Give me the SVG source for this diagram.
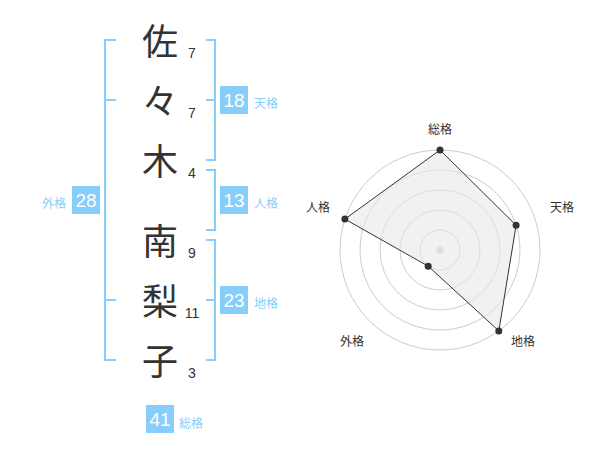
<svg xmlns="http://www.w3.org/2000/svg" width="600" height="470" viewBox="0 0 600 470">
<style>
.kanji{font-family:"Noto Sans CJK JP","Noto Sans CJK SC",sans-serif;font-size:36px;fill:#333;text-anchor:middle}
.num{font-family:"Liberation Sans",Arial,sans-serif;font-size:14px;fill:#333;text-anchor:middle}
.br{fill:none;stroke:#87cefa;stroke-width:2}
.box{fill:#87cefa}
.boxt{font-family:"Liberation Sans",Arial,sans-serif;font-size:19px;fill:#fff;text-anchor:middle}
.lab{font-family:"Noto Sans CJK JP","Noto Sans CJK SC",sans-serif;font-size:12px;fill:#87cefa}
.rl{font-family:"Noto Sans CJK JP","Noto Sans CJK SC",sans-serif;font-size:12px;fill:#333;text-anchor:middle}
.ring{fill:none;stroke:#ccc;stroke-width:1}
.dot{fill:#333}
</style>
<rect width="600" height="470" fill="#fff"/>
<g id="name">
<text class="kanji" x="160" y="55">佐</text>
<text class="kanji" x="160" y="115">々</text>
<text class="kanji" x="160" y="175">木</text>
<text class="kanji" x="160" y="255">南</text>
<text class="kanji" x="160" y="315">梨</text>
<text class="kanji" x="160" y="375">子</text>
<text class="num" x="192" y="58">7</text>
<text class="num" x="192" y="118">7</text>
<text class="num" x="192" y="178">4</text>
<text class="num" x="192" y="258">9</text>
<text class="num" x="192" y="318">11</text>
<text class="num" x="192" y="378">3</text>
</g>
<g id="connectors">
<path class="br" d="M116,40 H105 V360 H116 M105,100 H116 M105,300 H116"/>
<path class="br" d="M206,40 H215 V160 H206 M206,100 H215"/>
<path class="br" d="M206,170 H215 V230 H206"/>
<path class="br" d="M206,240 H215 V360 H206 M206,300 H215"/>
</g>
<g id="tenkaku">
<rect class="box" x="220" y="86" width="28" height="28"/>
<text class="boxt" x="234" y="107">18</text>
<text class="lab" x="254" y="108">天格</text>
</g>
<g id="jinkaku">
<rect class="box" x="220" y="186" width="28" height="28"/>
<text class="boxt" x="234" y="207">13</text>
<text class="lab" x="254" y="208">人格</text>
</g>
<g id="chikaku">
<rect class="box" x="220" y="286" width="28" height="28"/>
<text class="boxt" x="234" y="307">23</text>
<text class="lab" x="254" y="308">地格</text>
</g>
<g id="gaikaku">
<rect class="box" x="72" y="186" width="28" height="28"/>
<text class="boxt" x="86" y="207">28</text>
<text class="lab" x="66" y="208" text-anchor="end">外格</text>
</g>
<g id="soukaku">
<rect class="box" x="146" y="405" width="28" height="28"/>
<text class="boxt" x="160" y="426">41</text>
<text class="lab" x="179" y="428">総格</text>
</g>
<g id="radar">
<circle class="ring" cx="440" cy="250" r="20"/>
<circle class="ring" cx="440" cy="250" r="40"/>
<circle class="ring" cx="440" cy="250" r="60"/>
<circle class="ring" cx="440" cy="250" r="80"/>
<circle class="ring" cx="440" cy="250" r="100"/>
<circle cx="440" cy="250" r="3.5" fill="#ccc"/>
<polygon points="440,150 516.1,225.3 498.8,330.9 428.2,266.2 344.9,219.1" fill="#e8e8e8" fill-opacity="0.6" stroke="#333" stroke-width="1"/>
<circle class="dot" cx="440" cy="150" r="3.5"/>
<circle class="dot" cx="516.1" cy="225.3" r="3.5"/>
<circle class="dot" cx="498.8" cy="330.9" r="3.5"/>
<circle class="dot" cx="428.2" cy="266.2" r="3.5"/>
<circle class="dot" cx="344.9" cy="219.1" r="3.5"/>
<text class="rl" x="440" y="134">総格</text>
<text class="rl" x="562" y="212">天格</text>
<text class="rl" x="523" y="346">地格</text>
<text class="rl" x="352" y="346">外格</text>
<text class="rl" x="318" y="212">人格</text>
</g>
</svg>
